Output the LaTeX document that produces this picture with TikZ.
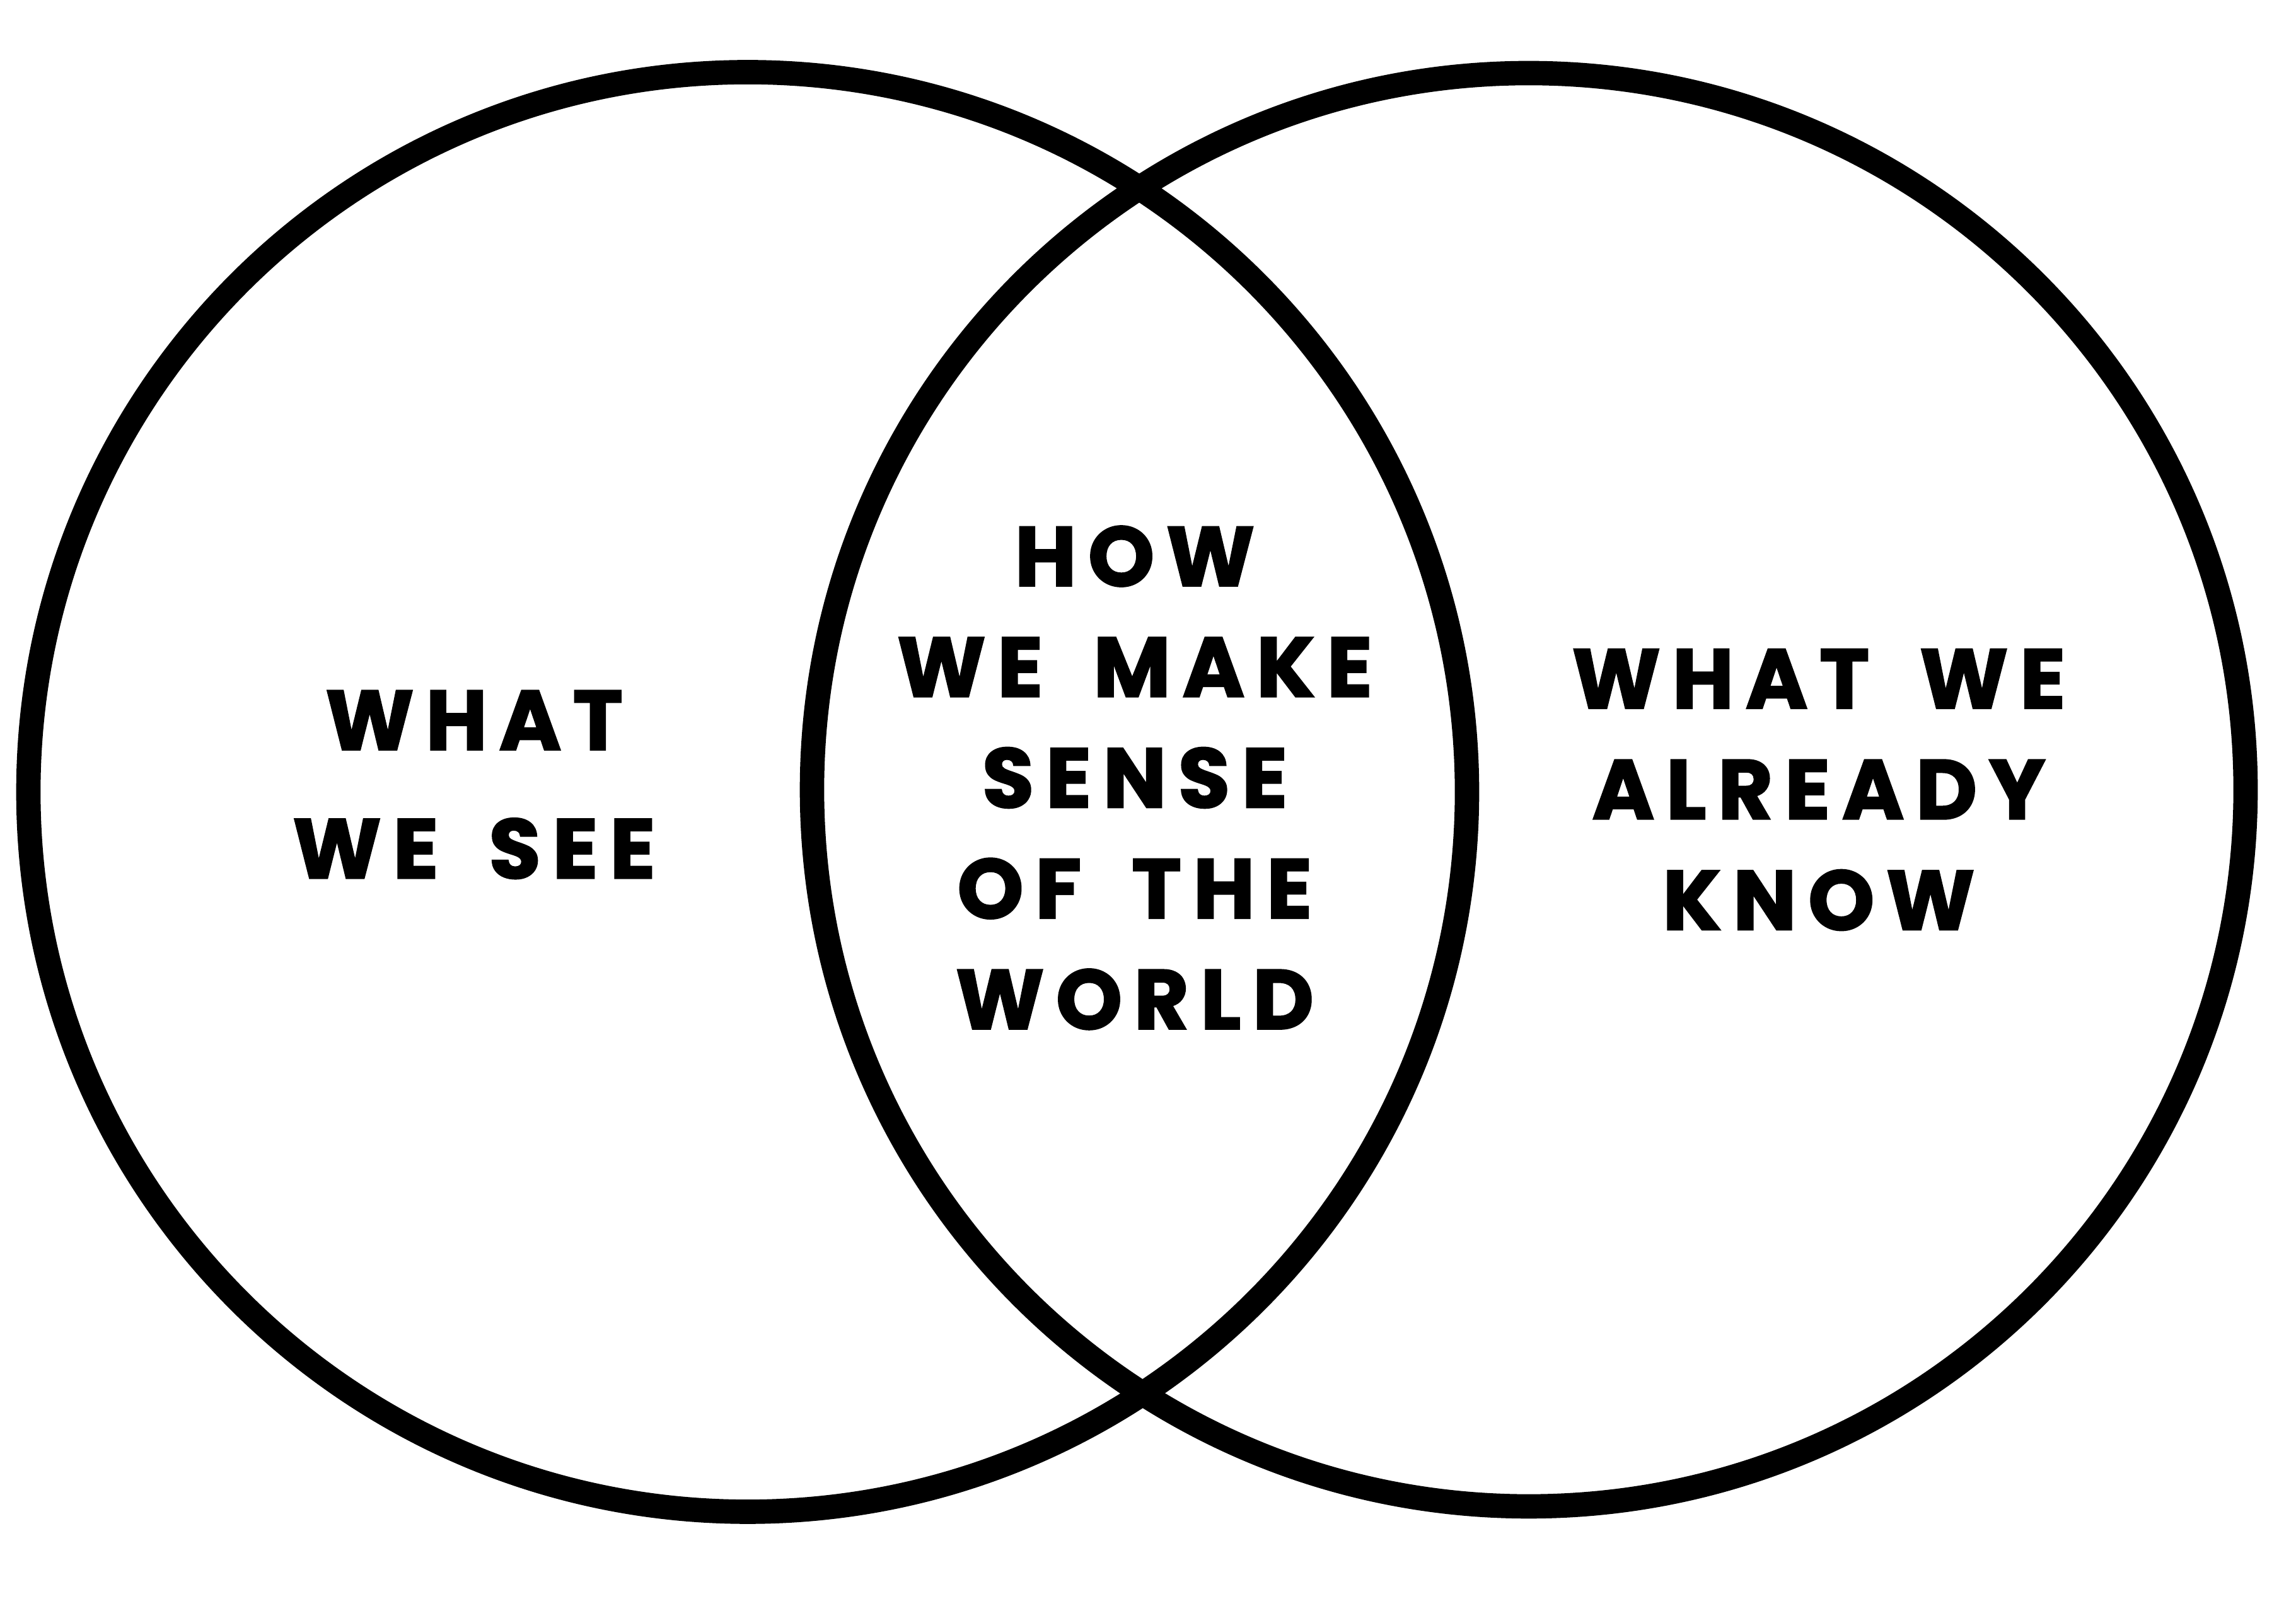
\documentclass[tikz,border=0pt]{standalone}
\usepackage{fontspec}
\setmainfont{Poppins}[LetterSpace=14,WordSpace=1.7,BoldFeatures={FakeBold=2}]

\begin{document}
\begin{tikzpicture}[set/.style={line width=11pt,line cap=round},lbl/.style={align=center,font=\fontsize{38}{50}\selectfont\bfseries}]
	\useasboundingbox (0,0) rectangle (36.42,25.75);
	\draw[set] (11.86,13.185) ellipse [x radius=11.41,y radius=11.42];
	\draw[set] (24.25,13.22) ellipse [x radius=11.37,y radius=11.37];
	\node[lbl,font=\fontsize{38}{58}\selectfont\bfseries] (see) at (7.52,13.30) {WHAT\\WE SEE};
	\node[lbl] (sense) at (18.0,13.41) {HOW\\WE MAKE\\SENSE\\OF THE\\WORLD};
	\node[lbl] (know) at (28.85,13.22) {WHAT WE\\ALREADY\\KNOW};
\end{tikzpicture}
\end{document}
